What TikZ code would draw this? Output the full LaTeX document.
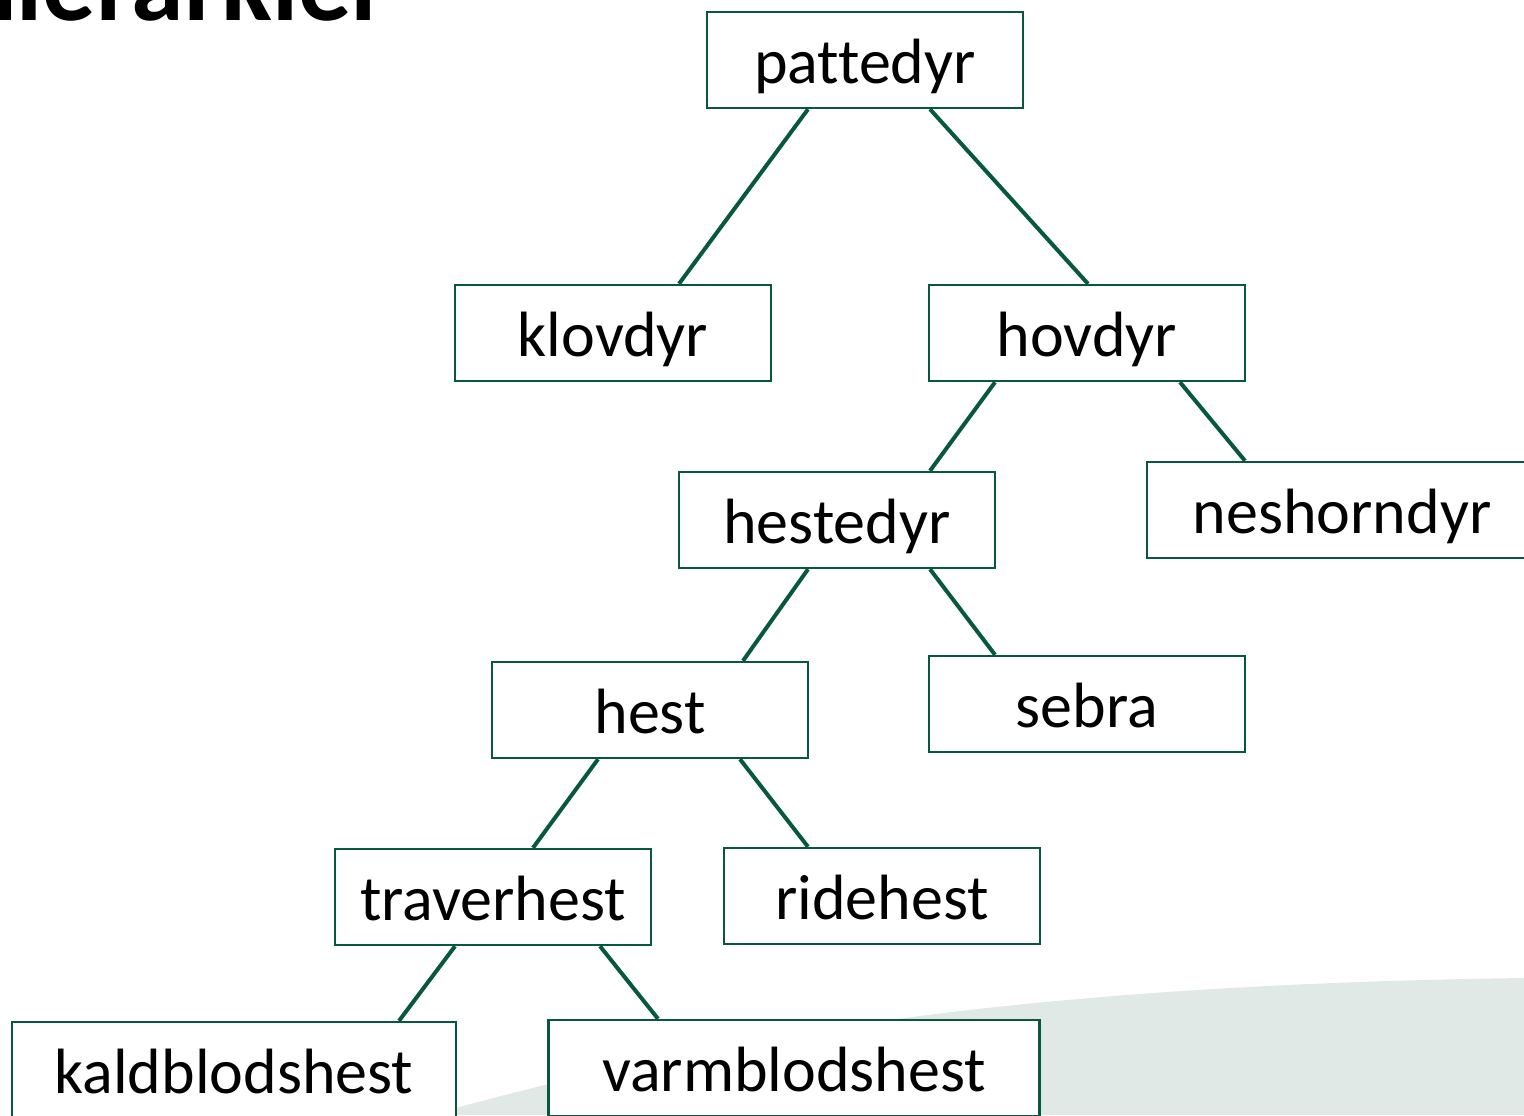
\documentclass[tikz,border=0pt]{standalone}
\usepackage{fontspec}
\setmainfont[Ligatures=NoCommon]{Carlito}
\definecolor{treegreen}{RGB}{8,88,64}
\definecolor{backgrey}{RGB}{224,233,230}

\begin{document}
\begin{tikzpicture}[x=0.5pt,y=-0.5pt]

\tikzset{box/.style = {shape=rectangle,draw=treegreen,line width=1.2pt,fill=white,
  minimum width=158pt,minimum height=48pt,inner sep=0pt,
  text height=28pt,text depth=5pt,font=\fontsize{32}{36}\selectfont}}
\tikzset{edge/.style = {draw=treegreen,line width=2pt}}

\useasboundingbox (0,0) rectangle (1524,1115);
\clip (0,0) rectangle (1524,1115);

%background
\fill[backgrey] (430,1115) .. controls (700,1040) and (1000,985) .. (1524,978) -- (1524,1115) -- cycle;

%title
\node[anchor=base east, font=\fontsize{53}{60}\selectfont\bfseries, inner sep=0pt] (title) at (390,20) {Hierarkier};

%verticies
\node[box] (pattedyr) at (865,60) {pattedyr};
\node[box] (klovdyr) at (613,333) {klovdyr};
\node[box] (hovdyr) at (1087,333) {hovdyr};
\node[box] (hestedyr) at (837,520) {hestedyr};
\node[box, minimum width=195pt] (neshorndyr) at (1342,510) {neshorndyr};
\node[box] (hest) at (650,710) {hest};
\node[box] (sebra) at (1087,704) {sebra};
\node[box] (traverhest) at (493,897) {traverhest};
\node[box] (ridehest) at (882,896) {ridehest};
\node[box, minimum width=222pt] (kaldblodshest) at (234,1070) {kaldblodshest};
\node[box, minimum width=245.5pt] (varmblodshest) at (794,1068) {varmblodshest};

%edges
\draw [edge] ([xshift=-28.5pt]pattedyr.south) -- ([xshift=33pt]klovdyr.north);
\draw [edge] ([xshift=32.5pt]pattedyr.south) -- ([xshift=0.5pt]hovdyr.north);
\draw [edge] ([xshift=-46pt]hovdyr.south) -- ([xshift=46.5pt]hestedyr.north);
\draw [edge] ([xshift=46.5pt]hovdyr.south) -- ([xshift=-48.5pt]neshorndyr.north);
\draw [edge] ([xshift=-14.5pt]hestedyr.south) -- ([xshift=46.5pt]hest.north);
\draw [edge] ([xshift=46.5pt]hestedyr.south) -- ([xshift=-46pt]sebra.north);
\draw [edge] ([xshift=-26pt]hest.south) -- ([xshift=20pt]traverhest.north);
\draw [edge] ([xshift=45pt]hest.south) -- ([xshift=-37pt]ridehest.north);
\draw [edge] ([xshift=-19pt]traverhest.south) -- ([xshift=82.5pt]kaldblodshest.north);
\draw [edge] ([xshift=53.5pt]traverhest.south) -- ([xshift=-68pt]varmblodshest.north);

\end{tikzpicture}
\end{document}
